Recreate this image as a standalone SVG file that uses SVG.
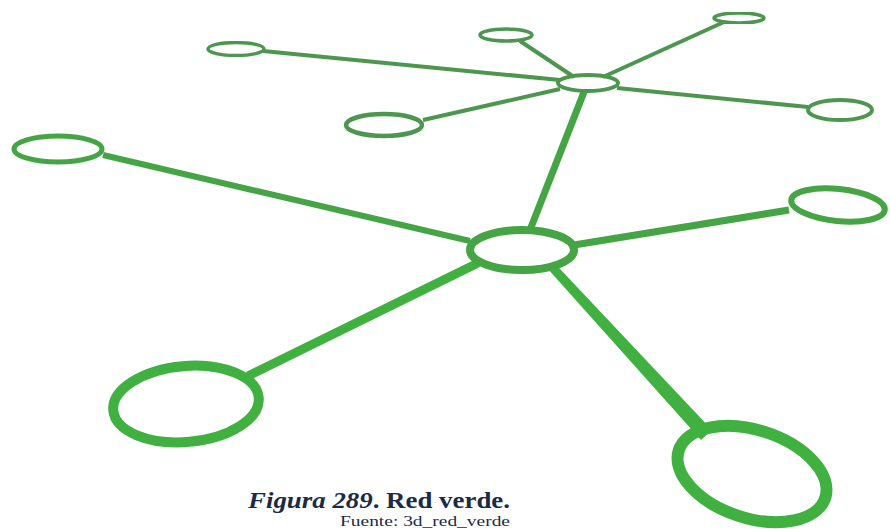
<svg xmlns="http://www.w3.org/2000/svg" width="890" height="529" viewBox="0 0 890 529">
<style>
.far{fill:none;stroke:#4e9650;}
.mid{fill:none;stroke:#45a545;}
.near{fill:none;stroke:#3fb03f;}
.cl{stroke-linecap:butt;}
.cap{font-family:"Liberation Serif",serif;fill:#1b2b47;}
</style>
<defs>
<filter id="soft" x="-10%" y="-10%" width="120%" height="120%"><feGaussianBlur stdDeviation="0.7"/></filter>
</defs>
<rect width="890" height="529" fill="#ffffff"/>
<g id="connectors" filter="url(#soft)">
<line class="far cl" x1="263" y1="51" x2="560" y2="80" stroke-width="4"/>
<line class="far cl" x1="520" y1="41" x2="574" y2="77" stroke-width="4"/>
<line class="far cl" x1="724" y1="22" x2="603" y2="77" stroke-width="4"/>
<line class="far cl" x1="617" y1="88" x2="808" y2="107" stroke-width="4"/>
<line class="far cl" x1="423" y1="120" x2="560" y2="89" stroke-width="4"/>
<line class="mid cl" x1="584" y1="92" x2="530" y2="230" stroke-width="7"/>
<line class="mid cl" x1="103" y1="155" x2="470" y2="241" stroke-width="6"/>
<line class="mid cl" x1="789" y1="210" x2="574" y2="245" stroke-width="7"/>
<line class="near cl" x1="478" y1="263" x2="248" y2="376" stroke-width="9"/>
<polygon fill="#3fb03f" points="549.7,271.1 556.3,264.9 712,430 701,440"/>
</g>
<g id="node-hub" filter="url(#soft)"><ellipse class="mid" cx="522" cy="250" rx="52" ry="20" stroke-width="8"/></g>
<g id="node-upper-hub" filter="url(#soft)"><ellipse class="far" cx="588" cy="83" rx="30" ry="8" stroke-width="4"/></g>
<g id="node-n1" filter="url(#soft)"><ellipse class="far" cx="236" cy="49" rx="28" ry="6.5" stroke-width="3.5"/></g>
<g id="node-n2" filter="url(#soft)"><ellipse class="far" cx="506" cy="35" rx="26" ry="6" stroke-width="3.5"/></g>
<g id="node-n3" filter="url(#soft)"><ellipse class="far" cx="739" cy="18" rx="25" ry="5" stroke-width="3.5"/></g>
<g id="node-n4" filter="url(#soft)"><ellipse class="far" cx="840" cy="110" rx="32" ry="10" stroke-width="4"/></g>
<g id="node-n5" filter="url(#soft)"><ellipse class="far" cx="384" cy="125" rx="38" ry="11" stroke-width="4.5"/></g>
<g id="node-left" filter="url(#soft)"><ellipse class="mid" cx="58" cy="149" rx="44" ry="13" stroke-width="5"/></g>
<g id="node-right" filter="url(#soft)"><ellipse class="mid" cx="838" cy="205" rx="47" ry="16" stroke-width="6" transform="rotate(6 838 205)"/></g>
<g id="node-bottom-left" filter="url(#soft)"><ellipse class="near" cx="186" cy="404" rx="73" ry="38" stroke-width="10" transform="rotate(-5 186 404)"/></g>
<g id="node-bottom-right" filter="url(#soft)"><ellipse class="near" cx="752" cy="474" rx="77" ry="44" stroke-width="12" transform="rotate(18 752 474)"/></g>
<g id="caption">
<text class="cap" x="248" y="508" font-size="24" font-weight="bold" textLength="262" lengthAdjust="spacingAndGlyphs"><tspan font-style="italic">Figura 289</tspan>. Red verde.</text>
<text class="cap" x="340" y="526" font-size="15" textLength="170" lengthAdjust="spacingAndGlyphs">Fuente: 3d_red_verde</text>
</g>
</svg>
